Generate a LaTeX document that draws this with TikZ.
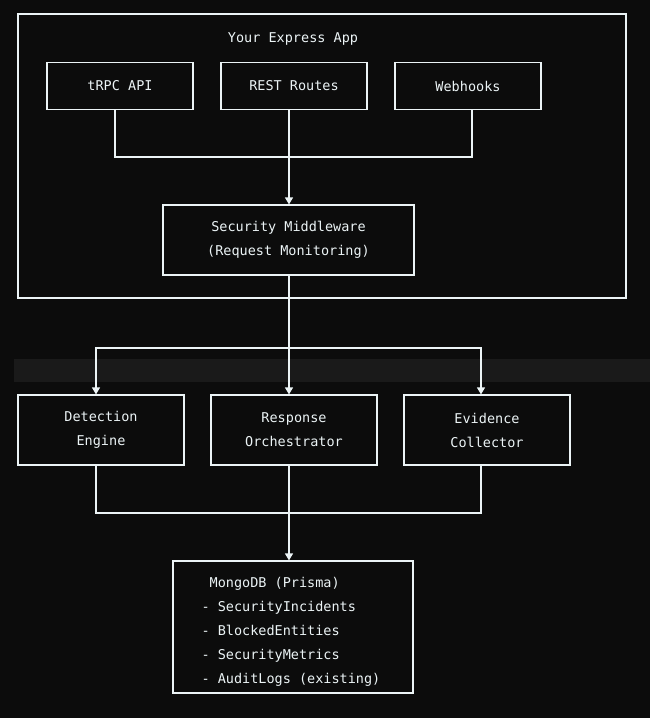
\documentclass[tikz,border=0pt]{standalone}
\usepackage{fontspec}
\setmonofont{DejaVu Sans Mono}
\usetikzlibrary{arrows.meta}
\begin{document}
\begin{tikzpicture}[x=1pt,y=-1pt,
  box/.style={draw=fg,line width=1.2pt,fill=bg},
  lab/.style={text=fg,font=\ttfamily\fontsize{13.5}{24}\selectfont,align=center},
  ln/.style={draw=fg,line width=1.2pt},
  arr/.style={ln,-{Triangle[length=7pt,width=8pt]}}]
\definecolor{bg}{HTML}{0C0C0C}\definecolor{fg}{HTML}{ECF4F6}\definecolor{band}{HTML}{1A1A1A}
\useasboundingbox[fill=bg] (0,0) rectangle (650,718);
\fill[band] (14,359) rectangle (650,382);
\draw[box,fill=none] (18,14) rectangle (626,298);
\node[lab] (title) at (293,39) {Your Express App};
\node[box,lab,minimum width=146pt,minimum height=47pt] (trpc) at (120,86) {tRPC API};
\node[box,lab,minimum width=146pt,minimum height=47pt] (rest) at (294,86) {REST Routes};
\node[box,lab,minimum width=146pt,minimum height=47pt] (web) at (468,86) {Webhooks};
\node[box,lab,minimum width=251pt,minimum height=70pt] (mw) at (288.5,240) {Security Middleware\\(Request Monitoring)};
\node[box,lab,minimum width=166pt,minimum height=70pt] (det) at (101,430) {Detection\\Engine};
\node[box,lab,minimum width=166pt,minimum height=70pt] (resp) at (294,430) {Response\\Orchestrator};
\node[box,lab,minimum width=166pt,minimum height=70pt] (evid) at (487,430) {Evidence\\Collector};
\node[box,minimum width=240pt,minimum height=132pt] (db) at (293,627) {};
\node[lab,align=left,anchor=west] (dbt) at (198,632) {\ MongoDB (Prisma)\\- SecurityIncidents\\- BlockedEntities\\- SecurityMetrics\\- AuditLogs (existing)};
\coordinate (j1) at (289,157);
\coordinate (j2) at (289,348);
\coordinate (j3) at (289,513);
\draw[ln] (trpc.south -| 115,0) |- (j1) -| (web.south -| 472,0);
\draw[arr] (rest.south -| 289,0) -- (mw.north -| 289,0);
\draw[ln] (mw.south -| 289,0) -- (j2);
\draw[arr] (j2) -| (det.north -| 96,0);
\draw[arr] (j2) -| (evid.north -| 481,0);
\draw[arr] (j2) -- (resp.north -| 289,0);
\draw[ln] (det.south -| 96,0) |- (j3) -| (evid.south -| 481,0);
\draw[ln] (resp.south -| 289,0) -- (j3);
\draw[arr] (j3) -- (db.north -| 289,0);
\end{tikzpicture}
\end{document}
